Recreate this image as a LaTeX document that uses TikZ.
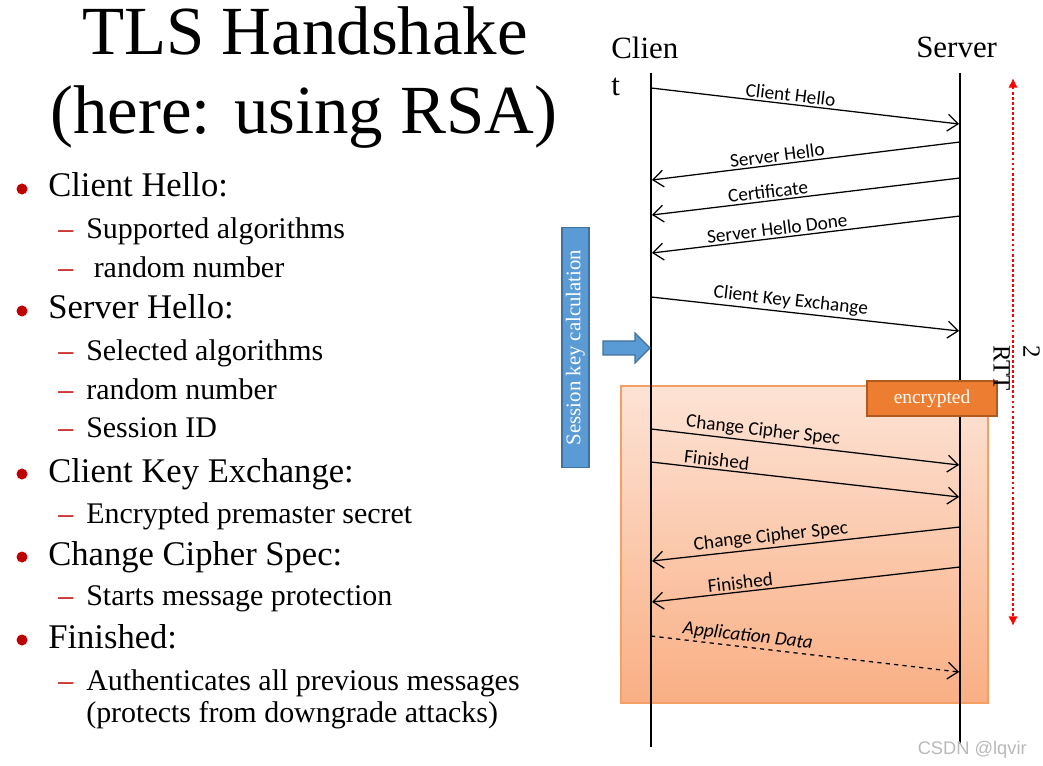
\documentclass[tikz,border=0pt]{standalone}
\usepackage{fontspec}
\setmainfont{Liberation Serif}
\newfontfamily\calfont{Carlito}
\newfontfamily\wmfont{Liberation Sans}
\usetikzlibrary{arrows.meta,shadows}

\definecolor{keyblue}{RGB}{91,155,213}
\definecolor{keyborder}{RGB}{65,113,156}
\definecolor{encorange}{RGB}{237,125,49}
\definecolor{encborder}{RGB}{174,90,33}
\definecolor{zonetop}{RGB}{253,227,213}
\definecolor{zonebot}{RGB}{249,175,132}
\definecolor{zoneborder}{RGB}{244,160,100}
\definecolor{bulletred}{RGB}{192,0,0}

\tikzset{
  msg/.style={-{Straight Barb[length=2.6mm,width=4.2mm]}, line width=0.9pt},
  lbl/.style={sloped, above, inner sep=1.5pt, font=\calfont\fontsize{13.7}{16}\selectfont},
  bigitem/.style={anchor=base west, inner sep=0pt, font=\fontsize{24.6}{28}\selectfont},
  subitem/.style={anchor=base west, inner sep=0pt, font=\fontsize{21.3}{25}\selectfont},
  dashmark/.style={anchor=base west, inner sep=0pt, text=bulletred, font=\fontsize{21.3}{25}\selectfont},
}

\begin{document}
\begin{tikzpicture}[x=0.025cm, y=-0.025cm]
\useasboundingbox (0,0) rectangle (1043,766);

% title
\node[anchor=base, inner sep=0pt, font=\fontsize{49}{56}\selectfont] (title1) at (305,55) {TLS Handshake};
\node[anchor=base, inner sep=0pt, font=\fontsize{49}{56}\selectfont] (title2) at (304,134) {(here: using RSA)};

% bullet list
\fill[bulletred] (22,189) circle (5.5);
\node[bigitem] (b1) at (48,197) {Client Hello:};
\node[dashmark] (d1) at (58,239) {--};
\node[subitem] (s1t) at (86,239) {Supported algorithms};
\node[dashmark] (d2) at (58,278) {--};
\node[subitem] (s2t) at (86,278) {\ random number};

\fill[bulletred] (22,311) circle (5.5);
\node[bigitem] (b2) at (48,319) {Server Hello:};
\node[dashmark] (d3) at (58,361) {--};
\node[subitem] (s3t) at (86,361) {Selected algorithms};
\node[dashmark] (d4) at (58,399) {--};
\node[subitem] (s4t) at (86,399) {random number};
\node[dashmark] (d5) at (58,437) {--};
\node[subitem] (s5t) at (86,437) {Session ID};

\fill[bulletred] (22,474) circle (5.5);
\node[bigitem] (b3) at (48,482) {Client Key Exchange:};
\node[dashmark] (d6) at (58,523) {--};
\node[subitem] (s6t) at (86,523) {Encrypted premaster secret};

\fill[bulletred] (22,557) circle (5.5);
\node[bigitem] (b4) at (48,565) {Change Cipher Spec:};
\node[dashmark] (d7) at (58,605) {--};
\node[subitem] (s7t) at (86,605) {Starts message protection};

\fill[bulletred] (22,640) circle (5.5);
\node[bigitem] (b5) at (48,648) {Finished:};
\node[dashmark] (d8) at (58,690) {--};
\node[subitem] (s8t) at (86,690) {Authenticates all previous messages};
\node[subitem] (s9t) at (86,722) {(protects from downgrade attacks)};

% encrypted zone
\draw[draw=zoneborder, line width=0.8pt, top color=zonetop, bottom color=zonebot,
      drop shadow={opacity=0.25, shadow xshift=1pt, shadow yshift=-1pt}] (621,386) rectangle (988,703);

% parties and lifelines
\node[anchor=north west, inner sep=0pt, align=left, font=\fontsize{22}{26.3}\selectfont] (client) at (611,37) {Clien\\t};
\node[anchor=base west, inner sep=0pt, font=\fontsize{22}{26}\selectfont] (server) at (916,58) {Server};
\coordinate (cl-top) at (651,73);
\coordinate (cl-bot) at (651,747);
\coordinate (sv-top) at (960,73);
\coordinate (sv-bot) at (960,744);
\draw[line width=0.8pt] (cl-top) -- (cl-bot);
\draw[line width=0.8pt] (sv-top) -- (sv-bot);

% messages
\coordinate (c1) at (651,88);   \coordinate (s1) at (959,124);
\coordinate (s2) at (960,142);  \coordinate (c2) at (652,180);
\coordinate (s3) at (960,178);  \coordinate (c3) at (652,215);
\coordinate (s4) at (960,216);  \coordinate (c4) at (652,253);
\coordinate (c5) at (651,297);  \coordinate (s5) at (959,331);
\coordinate (c6) at (651,429);  \coordinate (s6) at (959,465);
\coordinate (c7) at (651,462);  \coordinate (s7) at (959,497);
\coordinate (s8) at (960,527);  \coordinate (c8) at (652,561);
\coordinate (s9) at (960,567);  \coordinate (c9) at (652,602);
\coordinate (c10) at (651,636); \coordinate (s10) at (959,672);

\draw[msg] (c1) -- node[lbl, pos=0.45] {Client Hello} (s1);
\draw[msg] (s2) -- node[lbl, pos=0.59] {Server Hello} (c2);
\draw[msg] (s3) -- node[lbl, pos=0.62] {Certificate} (c3);
\draw[msg] (s4) -- node[lbl, pos=0.59] {Server Hello Done} (c4);
\draw[msg] (c5) -- node[lbl, pos=0.45] {Client Key Exchange} (s5);
\draw[msg] (c6) -- node[lbl, pos=0.36] {Change Cipher Spec} (s6);
\draw[msg] (c7) -- node[lbl, pos=0.21] {Finished} (s7);
\draw[msg] (s8) -- node[lbl, pos=0.61] {Change Cipher Spec} (c8);
\draw[msg] (s9) -- node[lbl, pos=0.71] {Finished} (c9);
\draw[msg, dashed] (c10) -- node[lbl, pos=0.31, font=\calfont\itshape\fontsize{13.7}{16}\selectfont] {Application Data} (s10);

% session key calculation
\node[draw=keyborder, fill=keyblue, line width=1pt, text=white, rotate=90,
      minimum width=6cm, minimum height=0.68cm, inner sep=0pt,
      font=\fontsize{14.8}{17}\selectfont] (sess) at (575.5,347.5) {Session key calculation};
\draw[draw=keyborder, fill=keyblue, line width=0.8pt]
  (603,341) -- (635,341) -- (635,333) -- (650,348) -- (635,363) -- (635,355) -- (603,355) -- cycle;

% encrypted label
\node[draw=encborder, fill=encorange, line width=1.5pt, text=white,
      minimum width=3.25cm, minimum height=0.875cm, inner sep=0pt,
      font=\fontsize{13.8}{16}\selectfont] (enc) at (932,398.5) {encrypted};

% 2 RTT
\coordinate (rtt-top) at (1013,78);
\coordinate (rtt-bot) at (1013,626);
\draw[red, line width=2pt, dash pattern=on 2pt off 1.6pt, {Latex[length=2.4mm,width=2.4mm]}-{Latex[length=2.4mm,width=2.4mm]}] (rtt-top) -- (rtt-bot);
\node[rotate=-90, anchor=north west, inner sep=0pt, align=left, font=\fontsize{17.7}{21}\selectfont] (rtt) at (1040,345) {2\\RTT};

% watermark
\node[anchor=base east, inner sep=0pt, text=gray!55, font=\wmfont\fontsize{13}{15}\selectfont] (wm) at (1027,754) {CSDN @lqvir};
\end{tikzpicture}
\end{document}
